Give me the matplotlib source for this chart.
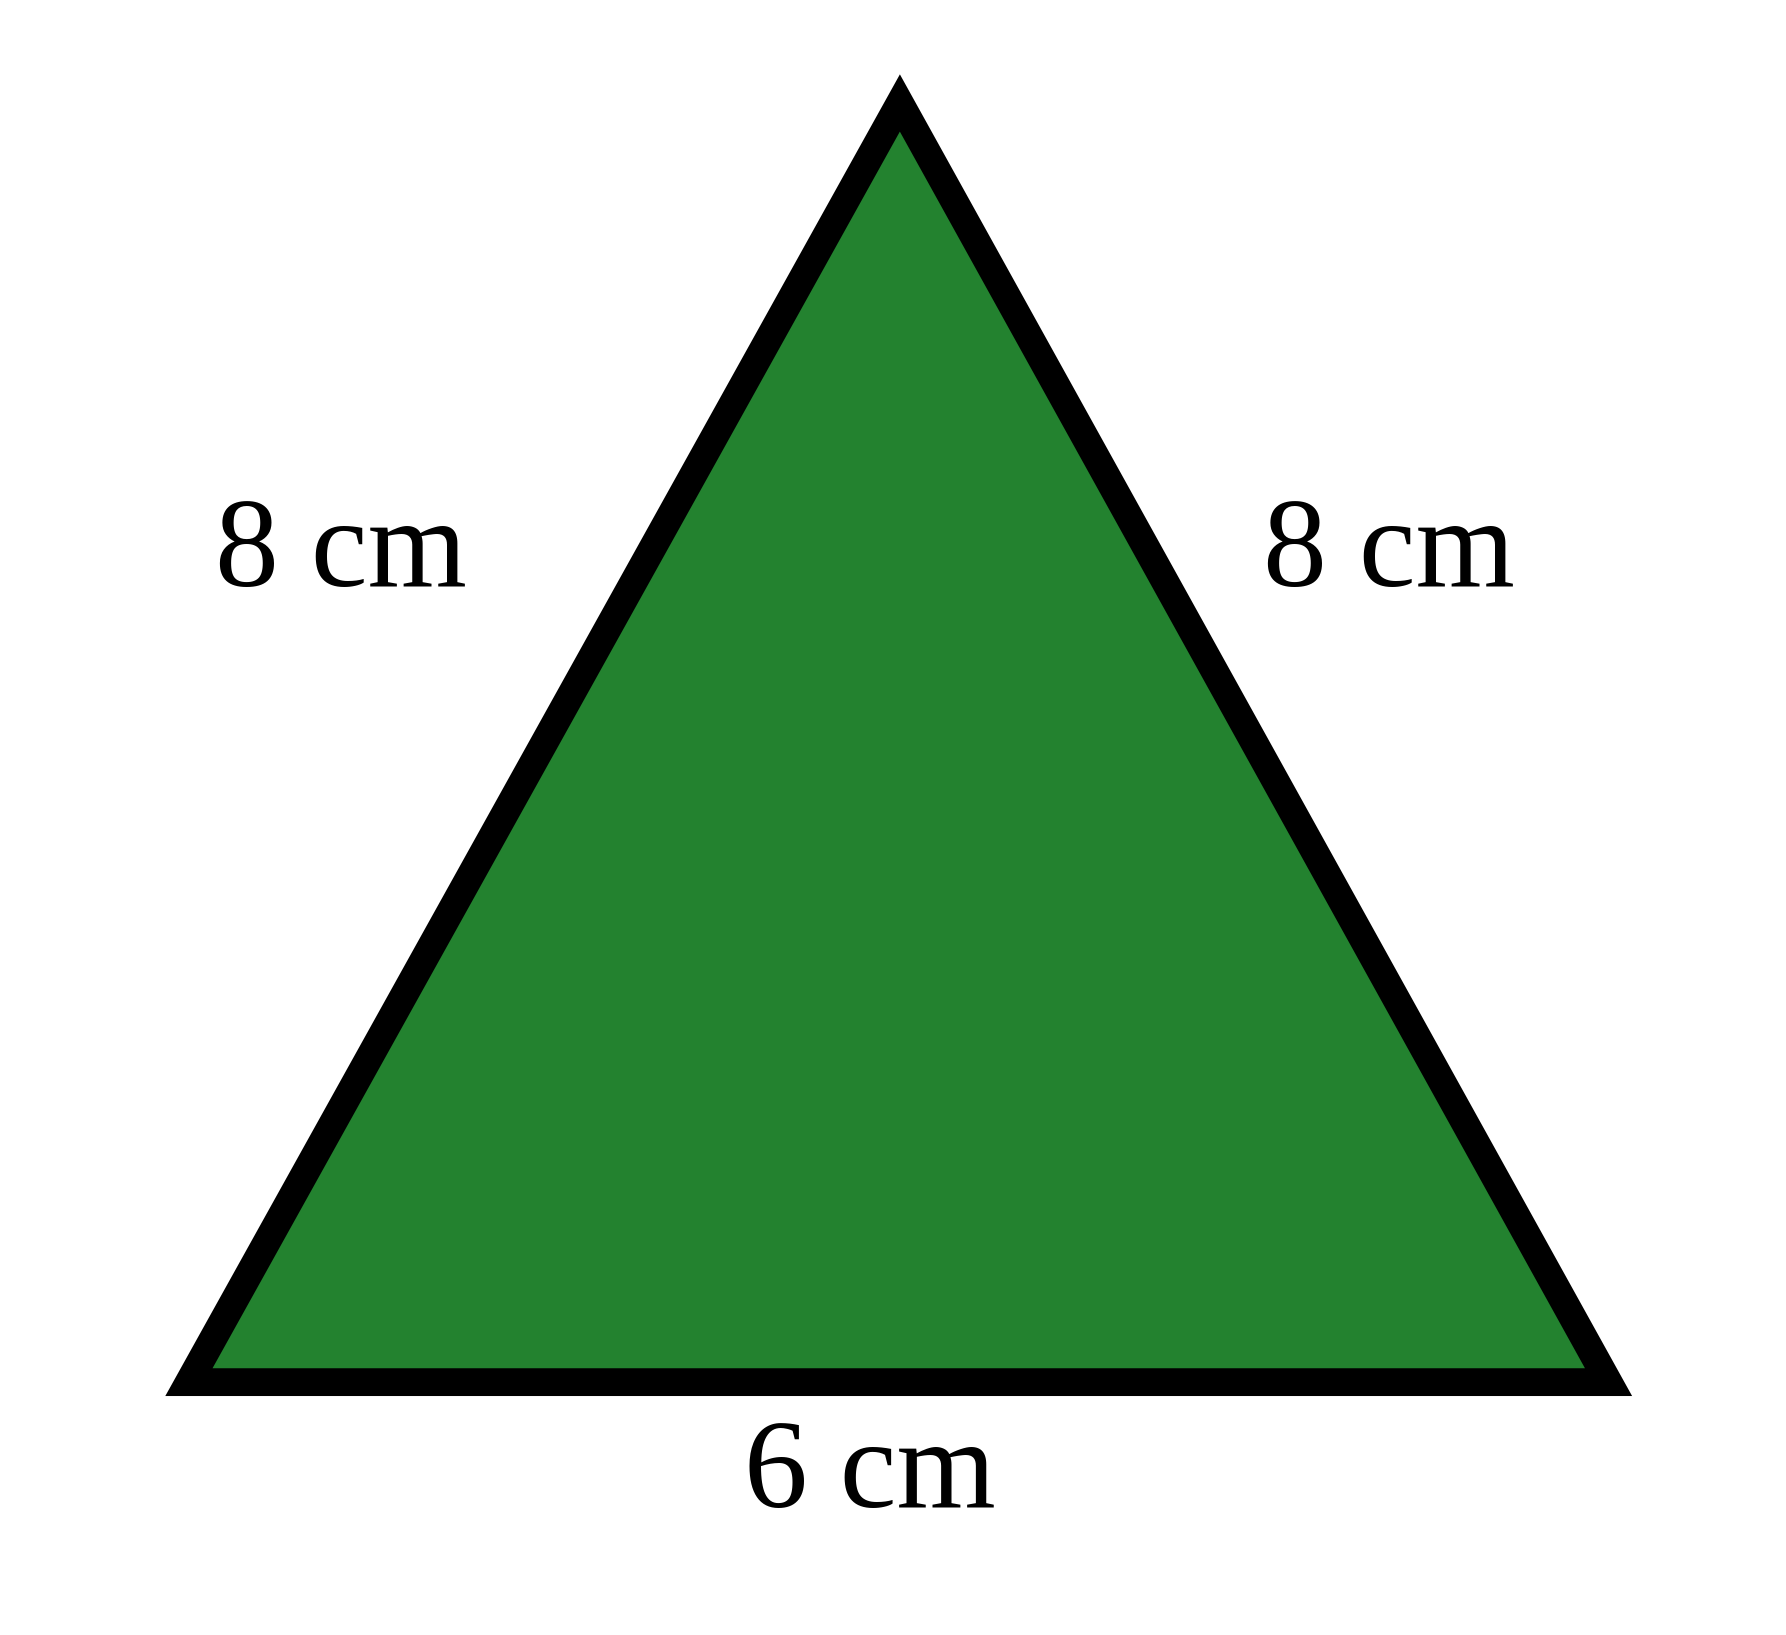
import matplotlib.pyplot as plt
from matplotlib.patches import Polygon

# triangle corners in picture units (width 1560, height 1429, y up)
xs = [786, 165, 1405]
ys = [1429 - 90, 1429 - 1208, 1429 - 1208]
side_labels = ['8 cm', '8 cm', '6 cm']
label_x = [298, 1213, 760]
label_y = [1429 - 485, 1429 - 485, 1429 - 1290]

fig = plt.figure(figsize=(17.86, 16.35), dpi=100)
ax = fig.add_axes([0, 0, 1, 1])
ax.set_xlim(0, 1560)
ax.set_ylim(0, 1429)
ax.axis('off')

tri = Polygon(list(zip(xs, ys)), closed=True, facecolor='#23822f',
              edgecolor='black', linewidth=20, joinstyle='miter')
ax.add_patch(tri)

for t, x, y in zip(side_labels, label_x, label_y):
    ax.text(x, y, t, ha='center', va='center', fontsize=92,
            family=['Liberation Serif', 'DejaVu Serif'], color='black')

fig.savefig('out.png', dpi=100)
